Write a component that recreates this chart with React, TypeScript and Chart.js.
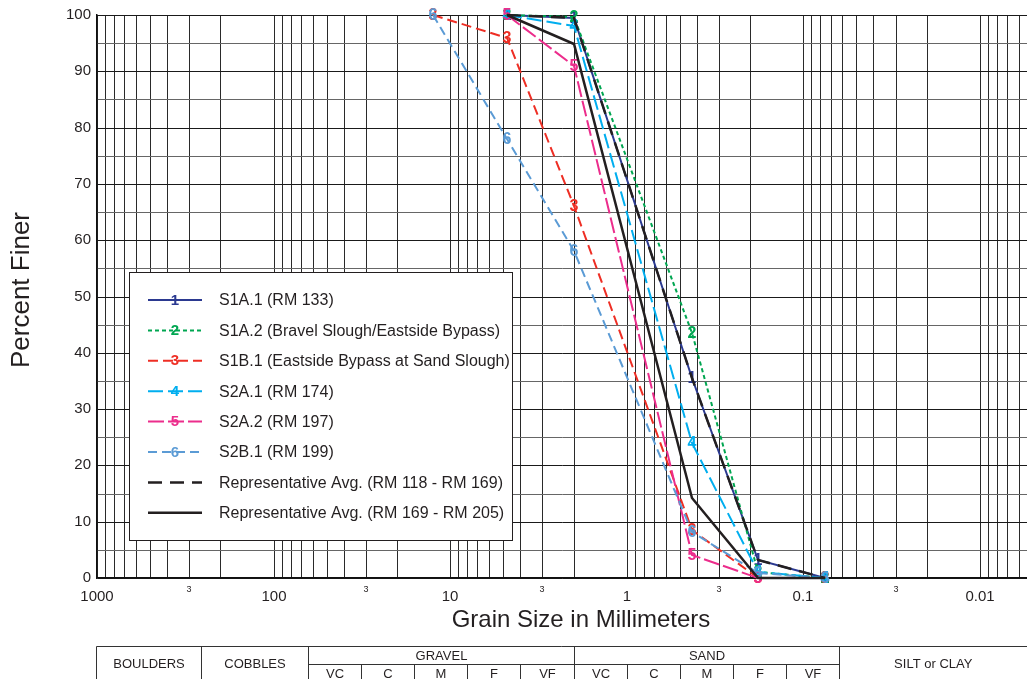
import React, { useEffect, useRef } from 'react';
import { Chart, registerables } from 'chart.js';

Chart.register(...registerables);

// ---------- data ----------
const sieveSizesMm = [12.5, 4.75, 2.0, 0.425, 0.18, 0.075];
const s1A1 = [null, 100, 99.5, 35.6, 3.2, 0];
const s1A2 = [null, 100, 99.6, 43.6, 1.0, 0];
const s1B1 = [100, 96, 66, 8.5, 0, 0];
const s2A1 = [null, 100, 98, 24, 1.0, 0];
const s2A2 = [null, 100, 91, 4, 0, null];
const s2B1 = [100, 78, 58, 8.2, 0.8, 0];
const avgRM118to169 = [null, 100, 99.5, 35.6, 3.2, 0];
const avgRM169to205 = [null, 100, 94.8, 14.2, 0, 0];

const seriesLabels = [
  'S1A.1 (RM 133)',
  'S1A.2 (Bravel Slough/Eastside Bypass)',
  'S1B.1 (Eastside Bypass at Sand Slough)',
  'S2A.1 (RM 174)',
  'S2A.2 (RM 197)',
  'S2B.1 (RM 199)',
  'Representative Avg. (RM 118 - RM 169)',
  'Representative Avg. (RM 169 - RM 205)',
];
const seriesMarkers = ['1', '2', '3', '4', '5', '6', '', ''];

const xMajorTickValues = [1000, 100, 10, 1, 0.1, 0.01];
const xMajorTickLabels = ['1000', '100', '10', '1', '0.1', '0.01'];
const xMinorLabelValues = [300, 30, 3, 0.3, 0.03];
const xMinorLabelText = '3';

const mainClassLabels = ['BOULDERS', 'COBBLES', 'GRAVEL', 'SAND', 'SILT or CLAY'];
const mainClassBounds = [256, 64, 2, 0.0625]; // boundaries between main classes (mm)
const subClassLabels = ['VC', 'C', 'M', 'F', 'VF'];
const gravelBounds = [64, 32, 16, 8, 4, 2];
const sandBounds = [2, 1, 0.5, 0.25, 0.125, 0.0625];

const xTitle = 'Grain Size in Millimeters';
const yTitle = 'Percent Finer';

// ---------- styles ----------
const W = 1027;
const H = 679;
const FONT = '"Liberation Sans", Arial, Helvetica, sans-serif';
const TEXT = '#231f20';

const styles = [
  { color: '#2b3990', dash: [] as number[], width: 2 },
  { color: '#00a651', dash: [4, 3], width: 2 },
  { color: '#ee2e24', dash: [10, 5], width: 2 },
  { color: '#00aeef', dash: [15, 5], width: 2 },
  { color: '#ec2d8c', dash: [16, 4], width: 2 },
  { color: '#5b9bd5', dash: [9, 5], width: 2 },
  { color: '#231f20', dash: [14, 8], width: 2.5 },
  { color: '#231f20', dash: [] as number[], width: 2.5 },
];

function makeMarker(text: string, color: string): HTMLCanvasElement {
  const c = document.createElement('canvas');
  c.width = 16;
  c.height = 18;
  const ctx = c.getContext('2d')!;
  ctx.font = `bold 16px ${FONT}`;
  ctx.fillStyle = color;
  ctx.textAlign = 'center';
  ctx.textBaseline = 'middle';
  ctx.fillText(text, 8, 9.5);
  return c;
}

const allSeries = [s1A1, s1A2, s1B1, s2A1, s2A2, s2B1, avgRM118to169, avgRM169to205];

const overlayPlugin = {
  id: 'overlay',
  afterDraw(chart: any) {
    const ctx: CanvasRenderingContext2D = chart.ctx;
    const xs = chart.scales.x;
    const area = chart.chartArea;
    ctx.save();

    // x tick labels
    ctx.fillStyle = TEXT;
    ctx.textAlign = 'center';
    ctx.textBaseline = 'middle';
    ctx.font = `15px ${FONT}`;
    xMajorTickValues.forEach((v, i) => {
      ctx.fillText(xMajorTickLabels[i], xs.getPixelForValue(v), area.bottom + 19);
    });
    ctx.font = `9px ${FONT}`;
    xMinorLabelValues.forEach((v) => {
      ctx.fillText(xMinorLabelText, xs.getPixelForValue(v), area.bottom + 12);
    });

    // axis titles
    ctx.font = `24px ${FONT}`;
    ctx.fillText(xTitle, 581, 620);
    ctx.save();
    ctx.translate(22, 290);
    ctx.rotate(-Math.PI / 2);
    ctx.font = `26px ${FONT}`;
    ctx.fillText(yTitle, 0, 0);
    ctx.restore();

    // legend
    const lx = 129.5, ly = 272.5, lw = 383, lh = 268;
    ctx.fillStyle = '#ffffff';
    ctx.fillRect(lx, ly, lw, lh);
    ctx.strokeStyle = '#231f20';
    ctx.lineWidth = 1;
    ctx.setLineDash([]);
    ctx.strokeRect(lx, ly, lw, lh);
    seriesLabels.forEach((lab, i) => {
      const y = 300 + i * 30.4;
      const st = styles[i];
      ctx.strokeStyle = st.color;
      ctx.lineWidth = st.width;
      ctx.setLineDash(st.dash);
      ctx.beginPath();
      ctx.moveTo(148, y);
      ctx.lineTo(202, y);
      ctx.stroke();
      ctx.setLineDash([]);
      if (seriesMarkers[i]) {
        ctx.font = `bold 15px ${FONT}`;
        ctx.fillStyle = st.color;
        ctx.textAlign = 'center';
        ctx.fillText(seriesMarkers[i], 175, y + 0.5);
      }
      ctx.font = `16px ${FONT}`;
      ctx.fillStyle = TEXT;
      ctx.textAlign = 'left';
      ctx.fillText(lab, 219, y + 1);
    });

    // classification table
    const top = 646.5, mid = 664.5, bot = H;
    const left = 96.5, right = W;
    const px = (v: number) => Math.round(xs.getPixelForValue(v)) + 0.5;
    ctx.strokeStyle = '#333333';
    ctx.lineWidth = 1;
    ctx.beginPath();
    ctx.moveTo(left, top);
    ctx.lineTo(right, top);
    ctx.moveTo(left, top);
    ctx.lineTo(left, bot);
    mainClassBounds.forEach((b) => {
      ctx.moveTo(px(b), top);
      ctx.lineTo(px(b), bot);
    });
    ctx.moveTo(px(64), mid);
    ctx.lineTo(px(0.0625), mid);
    [gravelBounds, sandBounds].forEach((bs) => {
      bs.slice(1, -1).forEach((b) => {
        ctx.moveTo(px(b), mid);
        ctx.lineTo(px(b), bot);
      });
    });
    ctx.stroke();

    ctx.fillStyle = TEXT;
    ctx.textAlign = 'center';
    ctx.textBaseline = 'middle';
    ctx.font = `13px ${FONT}`;
    const edges = [left, px(256), px(64), px(2), px(0.0625), right];
    mainClassLabels.forEach((lab, i) => {
      const cx = (edges[i] + edges[i + 1]) / 2;
      const cy = i === 2 || i === 3 ? 656 : 664;
      ctx.fillText(lab, cx, cy);
    });
    [gravelBounds, sandBounds].forEach((bs) => {
      for (let i = 0; i < bs.length - 1; i++) {
        const cx = (px(bs[i]) + px(bs[i + 1])) / 2;
        ctx.fillText(subClassLabels[i], cx, 674);
      }
    });

    ctx.restore();
  },
};

export default function App() {
  const ref = useRef<HTMLCanvasElement | null>(null);

  useEffect(() => {
    const canvas = ref.current;
    if (!canvas) return;

    const datasets = allSeries.map((vals, i) => {
      const st = styles[i];
      const data = vals
        .map((y, j) => (y === null ? null : { x: sieveSizesMm[j], y }))
        .filter((p) => p !== null);
      const marker = seriesMarkers[i] ? makeMarker(seriesMarkers[i], st.color) : undefined;
      return {
        label: seriesLabels[i],
        data,
        borderColor: st.color,
        backgroundColor: st.color,
        borderWidth: st.width,
        borderDash: st.dash,
        pointStyle: marker ?? 'circle',
        pointRadius: marker ? 8 : 0,
        pointHoverRadius: marker ? 8 : 0,
        tension: 0,
        fill: false,
        clip: false as any,
        order: i >= 6 ? 0 : 6 - i,
      };
    });

    const chart = new Chart(canvas, {
      type: 'line',
      data: { datasets: datasets as any },
      options: {
        responsive: false,
        animation: false,
        devicePixelRatio: 1,
        layout: { autoPadding: false, padding: { top: 14, left: 0, right: 0, bottom: 0 } },
        plugins: {
          legend: { display: false },
          tooltip: { enabled: false },
          title: { display: false },
        },
        scales: {
          x: {
            type: 'logarithmic',
            reverse: true,
            min: 0.0054,
            max: 1000,
            alignToPixels: true,
            afterBuildTicks: (scale: any) => {
              const ticks: { value: number }[] = [];
              for (let e = -3; e <= 2; e++) {
                for (let m = 1; m <= 9; m++) {
                  const v = Number((m * Math.pow(10, e)).toPrecision(6));
                  if (v >= scale.min && v <= scale.max) ticks.push({ value: v });
                }
              }
              ticks.push({ value: 1000 });
              scale.ticks = ticks;
            },
            afterFit: (scale: any) => {
              scale.height = H - 578;
            },
            ticks: { display: false },
            grid: { color: '#2a2a2a', lineWidth: 1, drawTicks: false },
            border: { display: true, color: '#111111', width: 1.5 },
          },
          y: {
            type: 'linear',
            min: 0,
            max: 100,
            alignToPixels: true,
            afterFit: (scale: any) => {
              scale.width = 97;
            },
            ticks: {
              stepSize: 5,
              padding: 6,
              color: TEXT,
              font: { family: FONT, size: 15 },
              callback: (v: any) => (Number(v) % 10 === 0 ? String(v) : ''),
            },
            grid: {
              drawTicks: false,
              lineWidth: 1,
              color: (c: any) => (c.tick && c.tick.value % 10 === 0 ? '#1a1a1a' : '#666666'),
            },
            border: { display: true, color: '#111111', width: 1.5 },
          },
        },
      },
      plugins: [overlayPlugin],
    });

    return () => {
      chart.destroy();
    };
  }, []);

  return (
    <div style={{ position: 'absolute', left: 0, top: 0, width: W, height: H, background: '#ffffff' }}>
      <canvas ref={ref} width={W} height={H} style={{ display: 'block' }} />
    </div>
  );
}
